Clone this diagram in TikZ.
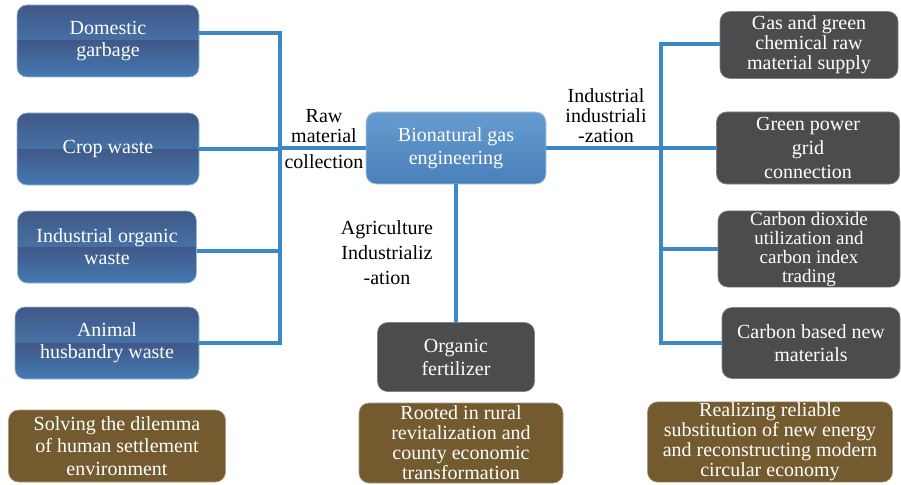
\documentclass[tikz,border=0pt]{standalone}
\usepackage{fontspec}
\setmainfont{Liberation Serif}
\usepackage{tikz}

\definecolor{LinkBlue}{RGB}{59,136,200}
\definecolor{SrcDark}{RGB}{64,88,136}
\definecolor{SrcLight}{RGB}{76,138,194}
\definecolor{SrcMid}{RGB}{68,122,178}
\definecolor{HubTop}{RGB}{104,156,207}
\definecolor{HubBot}{RGB}{72,128,186}
\definecolor{UseGray}{RGB}{76,76,78}
\definecolor{GoalBrown}{RGB}{115,90,47}

\tikzset{
  conn/.style={draw=LinkBlue, line width=3.2pt},
  srcbox/.style={rounded corners=10pt, minimum height=72pt, align=center,
    text=white, draw=SrcLight!60!white, line width=0.6pt,
    font=\fontsize{20}{22}\selectfont,
    path picture={
      \fill[sharp corners, top color=SrcDark, bottom color=SrcLight]
        (path picture bounding box.north west) rectangle (path picture bounding box.east);
      \fill[sharp corners, top color=SrcDark, bottom color=SrcMid]
        (path picture bounding box.west) rectangle (path picture bounding box.south east);
    }},
  hubbox/.style={rounded corners=10pt, minimum width=180pt, minimum height=72pt,
    align=center, text=white, top color=HubTop, bottom color=HubBot,
    draw=HubTop!50!white, line width=0.8pt, font=\fontsize{20}{23}\selectfont},
  usebox/.style={rounded corners=10pt, align=center, text=white, fill=UseGray,
    draw=UseGray!70!white, line width=0.6pt, font=\fontsize{20}{20}\selectfont},
  goalbox/.style={rounded corners=10pt, align=center, text=white, fill=GoalBrown,
    draw=GoalBrown!60!white, line width=0.6pt, font=\fontsize{20}{22.5}\selectfont},
  tag/.style={align=center, text=black, font=\fontsize{20}{20}\selectfont}
}

\begin{document}
\begin{tikzpicture}[x=1pt,y=-1pt]
\useasboundingbox (0,0) rectangle (901,484);
% sources
\node[srcbox, minimum width=182pt] (dg) at (108,41) {Domestic\\garbage};
\node[srcbox, minimum width=182pt] (cw) at (108,149) {Crop waste};
\node[srcbox, minimum width=179pt] (io) at (107,247) {Industrial organic\\waste};
\node[srcbox, minimum width=184pt] (aw) at (107,343) {Animal\\husbandry waste};
% hub
\node[hubbox] (bg) at (456,148) {Bionatural gas\\engineering};
% uses
\node[usebox, minimum width=178pt, minimum height=67pt] (gs) at (809,45)
  {Gas and green\\chemical raw\\material supply};
\node[usebox, minimum width=183pt, minimum height=72pt,
  font=\fontsize{20}{24}\selectfont] (gp) at (808,148) {Green power\\grid\\connection};
\node[usebox, minimum width=182pt, minimum height=76pt, inner ysep=1pt,
  font=\fontsize{19}{19}\selectfont] (cd) at (809,249)
  {Carbon dioxide\\utilization and\\carbon index\\trading};
\node[usebox, minimum width=178pt, minimum height=71pt,
  font=\fontsize{20}{23}\selectfont] (cb) at (811,343) {Carbon based new\\materials};
\node[usebox, minimum width=157pt, minimum height=69pt,
  font=\fontsize{20}{23}\selectfont] (of) at (456,357) {Organic\\fertilizer};
% goals
\node[goalbox, minimum width=217pt, minimum height=72pt] (g1) at (117,446)
  {Solving the dilemma\\of human settlement\\environment};
\node[goalbox, minimum width=204pt, minimum height=80pt, inner ysep=1pt,
  font=\fontsize{20}{20}\selectfont] (g2) at (461,443)
  {Rooted in rural\\revitalization and\\county economic\\transformation};
\node[goalbox, minimum width=245pt, minimum height=79pt, inner ysep=1pt,
  font=\fontsize{20}{20}\selectfont] (g3) at (770,442)
  {Realizing reliable\\substitution of new energy\\and reconstructing modern\\circular economy};
% buses
\coordinate (lt) at (280,33);
\coordinate (lb) at (280,343);
\coordinate (rt) at (661,44);
\coordinate (rb) at (661,343);
\draw[conn] (dg.east |- lt) -- (lt) -- (lb) -- (aw.east);
\draw[conn] (cw.east) -- (cw.east -| lt);
\draw[conn] ([yshift=-4pt]io.east) -- ([yshift=-4pt]io.east -| lt);
\draw[conn] (bg.west) -- (bg.west -| lt);
\draw[conn] (bg.east) -- (bg.east -| rt);
\draw[conn] (gs.west |- rt) -- (rt) -- (rb) -- (cb.west |- rb);
\draw[conn] (gp.west) -- (gp.west -| rt);
\draw[conn] (cd.west) -- (cd.west -| rt);
\draw[conn] (bg.south) -- (of.north);
% labels
\node[tag] (rm) at (324,139) {Raw\\material\\[6pt]collection};
\node[tag] (ii) at (606,116) {Industrial\\industriali\\-zation};
\node[tag, font=\fontsize{20}{25}\selectfont] (ai) at (387,253)
  {Agriculture\\Industrializ\\-ation};
\end{tikzpicture}
\end{document}
